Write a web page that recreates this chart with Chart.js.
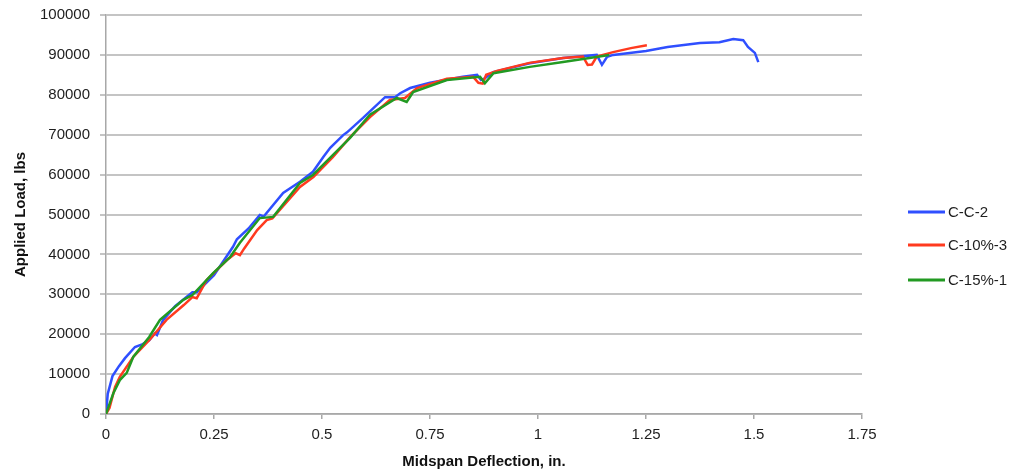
<!DOCTYPE html>
<html>
<head>
<meta charset="utf-8">
<script src="https://cdn.jsdelivr.net/npm/chart.js@4"></script>
<style>
  html, body { margin:0; padding:0; background:#fff; }
  #wrap { position:relative; width:1013px; height:473px; }
</style>
</head>
<body>
<div id="wrap"><canvas id="loadChart"></canvas></div>
<script>
// C-C-2
const ccX = [0, 0.004, 0.015, 0.03, 0.044, 0.067, 0.085, 0.1, 0.113, 0.118, 0.132, 0.16, 0.2, 0.21, 0.25, 0.294, 0.303, 0.33, 0.356, 0.365, 0.41, 0.449, 0.479, 0.503, 0.519, 0.549, 0.558, 0.595, 0.646, 0.669, 0.681, 0.704, 0.75, 0.826, 0.859, 0.868, 0.878, 0.896, 0.981, 1.058, 1.136, 1.148, 1.16, 1.174, 1.25, 1.3, 1.375, 1.42, 1.452, 1.475, 1.486, 1.502, 1.51];
const ccY = [0, 5000, 9500, 12000, 14000, 16800, 17500, 18500, 20200, 19800, 23500, 27000, 30500, 30500, 34800, 41900, 43800, 46500, 49900, 49500, 55400, 58200, 60700, 64400, 66700, 69900, 70600, 74200, 79400, 79400, 80400, 81700, 83000, 84500, 85000, 83700, 84200, 85700, 87900, 89200, 90000, 87500, 89500, 90000, 91000, 92000, 93000, 93200, 94000, 93700, 92000, 90500, 88200];
// C-10%-3
const c10X = [0, 0.008, 0.021, 0.032, 0.063, 0.1, 0.14, 0.18, 0.2, 0.21, 0.233, 0.28, 0.3, 0.31, 0.32, 0.35, 0.372, 0.385, 0.449, 0.48, 0.525, 0.565, 0.611, 0.657, 0.692, 0.72, 0.789, 0.85, 0.862, 0.872, 0.88, 0.905, 0.98, 1.058, 1.104, 1.115, 1.125, 1.136, 1.174, 1.215, 1.252];
const c10Y = [0, 1500, 6800, 9300, 14300, 18500, 23600, 27300, 29300, 29000, 33600, 38600, 40300, 39800, 41500, 46100, 48600, 49000, 56900, 59400, 64400, 69400, 74400, 78700, 79200, 81700, 84000, 84500, 83000, 82800, 85000, 86000, 88000, 89200, 89600, 87500, 87600, 89600, 90700, 91700, 92400];
// C-15%-1
const c15X = [0, 0.017, 0.032, 0.048, 0.063, 0.1, 0.125, 0.179, 0.2, 0.248, 0.287, 0.31, 0.356, 0.387, 0.449, 0.479, 0.525, 0.565, 0.611, 0.673, 0.696, 0.711, 0.789, 0.866, 0.877, 0.897, 0.981, 1.058, 1.165];
const c15Y = [0, 5200, 8500, 10300, 14300, 19300, 23600, 28600, 29800, 35300, 39300, 42900, 49100, 49400, 57900, 59900, 64900, 69200, 75000, 79200, 78200, 80700, 83700, 84500, 82900, 85400, 87000, 88200, 90000];

const seriesNames = ['C-C-2', 'C-10%-3', 'C-15%-1'];
const seriesColors = ['#2f4fff', '#ff3a1f', '#229a22'];
const xTicks = [0, 0.25, 0.5, 0.75, 1, 1.25, 1.5, 1.75];
const yTicks = [0, 10000, 20000, 30000, 40000, 50000, 60000, 70000, 80000, 90000, 100000];

const pts = (xs, ys) => xs.map((x, i) => ({ x, y: ys[i] }));
const FONT = 'Liberation Sans';

// legend drawn at the right, like the original
const sideLegend = {
  id: 'sideLegend',
  afterDraw(chart){
    const c = chart.ctx;
    const rows = [212, 245, 280];
    c.save();
    chart.data.datasets.forEach((ds, i) => {
      c.strokeStyle = ds.borderColor;
      c.lineWidth = 3;
      c.beginPath(); c.moveTo(908, rows[i]); c.lineTo(945, rows[i]); c.stroke();
      c.fillStyle = '#1e1e1e';
      c.font = '15px "' + FONT + '"';
      c.textBaseline = 'middle';
      c.fillText(ds.label, 948, rows[i] + 1);
    });
    c.restore();
  }
};

new Chart(document.getElementById('loadChart'), {
  type: 'scatter',
  data: {
    datasets: [
      { label: seriesNames[0], data: pts(ccX, ccY), borderColor: seriesColors[0], order: 3 },
      { label: seriesNames[1], data: pts(c10X, c10Y), borderColor: seriesColors[1], order: 2 },
      { label: seriesNames[2], data: pts(c15X, c15Y), borderColor: seriesColors[2], order: 1 }
    ].map(d => ({ ...d, showLine: true, pointRadius: 0, borderWidth: 2.5, tension: 0, backgroundColor: d.borderColor }))
  },
  options: {
    responsive: true,
    maintainAspectRatio: false,
    animation: false,
    layout: { padding: { top: 15, right: 151, left: 0, bottom: 0 } },
    plugins: { legend: { display: false }, tooltip: { enabled: false } },
    scales: {
      x: {
        type: 'linear', min: 0, max: 1.75,
        afterBuildTicks: ax => { ax.ticks = xTicks.map(v => ({ value: v })); },
        afterFit: ax => { ax.height = 59; },
        ticks: { color: '#1e1e1e', font: { family: FONT, size: 15 }, padding: 7, maxRotation: 0, callback: v => String(v) },
        grid: { drawOnChartArea: false, drawTicks: true, tickLength: 5, color: '#a8a8a8', lineWidth: 1.5 },
        border: { color: '#a8a8a8', width: 1.5 },
        title: { display: true, text: 'Midspan Deflection, in.', color: '#111', font: { family: FONT, size: 15, weight: 'bold' }, padding: { top: 0, bottom: 2 } }
      },
      y: {
        type: 'linear', min: 0, max: 100000,
        afterBuildTicks: ax => { ax.ticks = yTicks.map(v => ({ value: v })); },
        afterFit: ax => { ax.width = 106; ax.paddingTop = 0; ax.paddingBottom = 0; },
        ticks: { color: '#1e1e1e', font: { family: FONT, size: 15 }, padding: 10, callback: v => String(v) },
        grid: { color: '#c4c4c4', lineWidth: 2, tickLength: 6 },
        border: { color: '#a8a8a8', width: 1.5 },
        title: { display: true, text: 'Applied Load, lbs', color: '#111', font: { family: FONT, size: 15, weight: 'bold' }, padding: { top: 12, bottom: 0 } }
      }
    }
  },
  plugins: [sideLegend]
});
</script>
</body>
</html>
